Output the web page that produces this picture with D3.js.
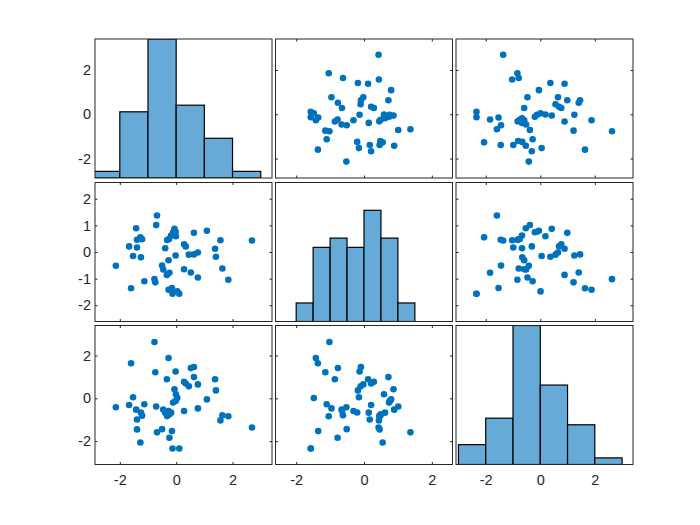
<!DOCTYPE html>
<html>
<head>
<meta charset="utf-8">
<title>Scatter plot matrix</title>
<style>
  body { margin: 0; background: #fff; }
  svg { display: block; }
  .tick text { font-family: "Liberation Sans", Arial, sans-serif; font-size: 14.5px; fill: #262626; }
</style>
</head>
<body>
<script src="https://cdn.jsdelivr.net/npm/d3@7/dist/d3.min.js"></script>
<script>
// three variables, 50 samples each
var x1 = [-2.14, -1.60, -1.67, -1.53, -1.42, -1.39, -1.39, -1.27, -1.21, -1.25,
          -1.13, -0.77, -0.74, -0.68, -0.71, -0.39, -0.50, -0.46, -0.27, -0.33,
          -0.24, -0.27, 0.04, -0.15, -0.13, 0.11, -0.32, -0.25, -0.18, -0.11,
          -0.06, -0.02, -0.01, -0.02, 0.28, 0.34, 0.28, 0.45, 0.52, 0.63,
          0.63, 0.77, 0.77, 1.09, 1.38, 1.41, 1.57, 1.64, 1.85, 2.69];
var x2 = [-0.52, -1.36, 0.21, -0.15, 0.89, 0.46, 0.17, 0.55, 0.48, -0.20,
          -1.10, -1.02, -1.14, 1.37, 1.01, 0.14, -0.51, -0.66, -0.31, -0.86,
          -0.78, -1.42, -1.48, -1.35, -1.57, -1.57, 0.45, 0.49, 0.62, 0.74,
          0.87, 0.76, 0.59, -0.13, 0.29, 0.21, -0.65, -0.10, -0.77, 0.72,
          -0.09, -0.02, -0.96, 0.80, 0.12, -0.18, 0.44, -0.62, -1.04, 0.43];
var x3 = [-0.42, 1.64, -0.31, 0.05, -0.53, -1.45, -0.99, -2.06, -0.81, -0.66,
          -0.28, 2.63, 1.22, -1.59, -0.38, -0.67, -1.44, -0.52, -0.59, 0.89,
          -1.84, 1.88, 0.01, -1.53, -2.34, -2.34, -0.83, -0.75, -0.67, -0.20,
          0.42, -0.12, 0.19, 1.25, 0.77, 0.69, -0.59, 0.56, 1.41, 0.99,
          1.46, 0.65, -0.47, -0.05, 0.89, 0.37, -1.03, -0.79, -0.84, -1.36];

var vars = [x1, x2, x3];

// axis limits and ticks of each variable
var limits = [[-2.88, 3.40], [-2.61, 2.61], [-3.09, 3.40]];
var xTicks = [[-2, 0, 2], [-2, 0, 2], [-2, 0, 2]];
var yTicks = [[-2, 0, 2], [-2, -1, 0, 1, 2], [-2, 0, 2]];

// histogram bin edges and count limit on the diagonal
var binEdges = [[-3, -2, -1, 0, 1, 2, 3],
                [-2, -1.5, -1, -0.5, 0, 0.5, 1, 1.5],
                [-3, -2, -1, 0, 1, 2, 3]];
var histMax = [21, 15, 21];

// layout
var width = 700, height = 525;
var colX = [95, 275.5, 456], cellW = 177;
var rowY = [39, 182.5, 325.5], cellH = 139;
var tickLen = 2.5;
var n = vars.length;

var svg = d3.select("body").append("svg")
    .attr("width", width)
    .attr("height", height);

svg.append("rect").attr("width", width).attr("height", height).attr("fill", "#fff");

for (var i = 0; i < n; i++) {
  for (var j = 0; j < n; j++) {
    var x0 = colX[j], y0 = rowY[i];
    var x = d3.scaleLinear().domain(limits[j]).range([x0, x0 + cellW]);
    var y = d3.scaleLinear().domain(limits[i]).range([y0 + cellH, y0]);
    var g = svg.append("g");

    if (i == j) {
      // histogram on the diagonal
      var clipId = "clip" + i;
      svg.append("clipPath").attr("id", clipId)
        .append("rect")
        .attr("x", x0).attr("y", y0).attr("width", cellW).attr("height", cellH);

      var edges = binEdges[i];
      var bins = d3.bin()
          .domain([edges[0], edges[edges.length - 1]])
          .thresholds(edges.slice(1, -1))(vars[i]);
      var hy = d3.scaleLinear().domain([0, histMax[i]]).range([y0 + cellH, y0]);

      g.append("g").attr("clip-path", "url(#" + clipId + ")")
        .selectAll("rect")
        .data(bins)
        .enter().append("rect")
          .attr("x", function (d) { return x(d.x0); })
          .attr("width", function (d) { return x(d.x1) - x(d.x0); })
          .attr("y", function (d) { return hy(d.length); })
          .attr("height", function (d) { return y0 + cellH - hy(d.length); })
          .attr("fill", "#66AAD7")
          .attr("stroke", "#000")
          .attr("stroke-width", 1.2);
    } else {
      // scatter: column variable on x, row variable on y
      var xs = vars[j], ys = vars[i];
      g.selectAll("circle")
        .data(d3.range(xs.length))
        .enter().append("circle")
          .attr("cx", function (k) { return x(xs[k]); })
          .attr("cy", function (k) { return y(ys[k]); })
          .attr("r", 3.3)
          .attr("fill", "#0072BD");
    }

    var len = (i == j) ? 0 : tickLen;
    var showX = (i == n - 1), showY = (j == 0);

    // bottom + top
    var ab = g.append("g")
      .attr("transform", "translate(0," + (y0 + cellH) + ")")
      .call(d3.axisBottom(x).tickValues(xTicks[j]).tickSize(-len).tickPadding(10.5)
        .tickFormat(showX ? function (d) { return String(d); } : function () { return ""; }));
    var at = g.append("g")
      .attr("transform", "translate(0," + y0 + ")")
      .call(d3.axisTop(x).tickValues(xTicks[j]).tickSize(-len).tickFormat(function () { return ""; }));
    // left + right
    var al = g.append("g")
      .attr("transform", "translate(" + x0 + ",0)")
      .call(d3.axisLeft(y).tickValues(yTicks[i]).tickSize(-len).tickPadding(4)
        .tickFormat(showY ? function (d) { return String(d); } : function () { return ""; }));
    var ar = g.append("g")
      .attr("transform", "translate(" + (x0 + cellW) + ",0)")
      .call(d3.axisRight(y).tickValues(yTicks[i]).tickSize(-len).tickFormat(function () { return ""; }));

    [ab, at, al, ar].forEach(function (a) {
      a.attr("color", "#262626");
      a.select(".domain").remove();
    });

    // axes box
    g.append("rect")
      .attr("x", x0).attr("y", y0)
      .attr("width", cellW).attr("height", cellH)
      .attr("fill", "none")
      .attr("stroke", "#262626")
      .attr("stroke-width", 1);
  }
}
</script>
</body>
</html>
